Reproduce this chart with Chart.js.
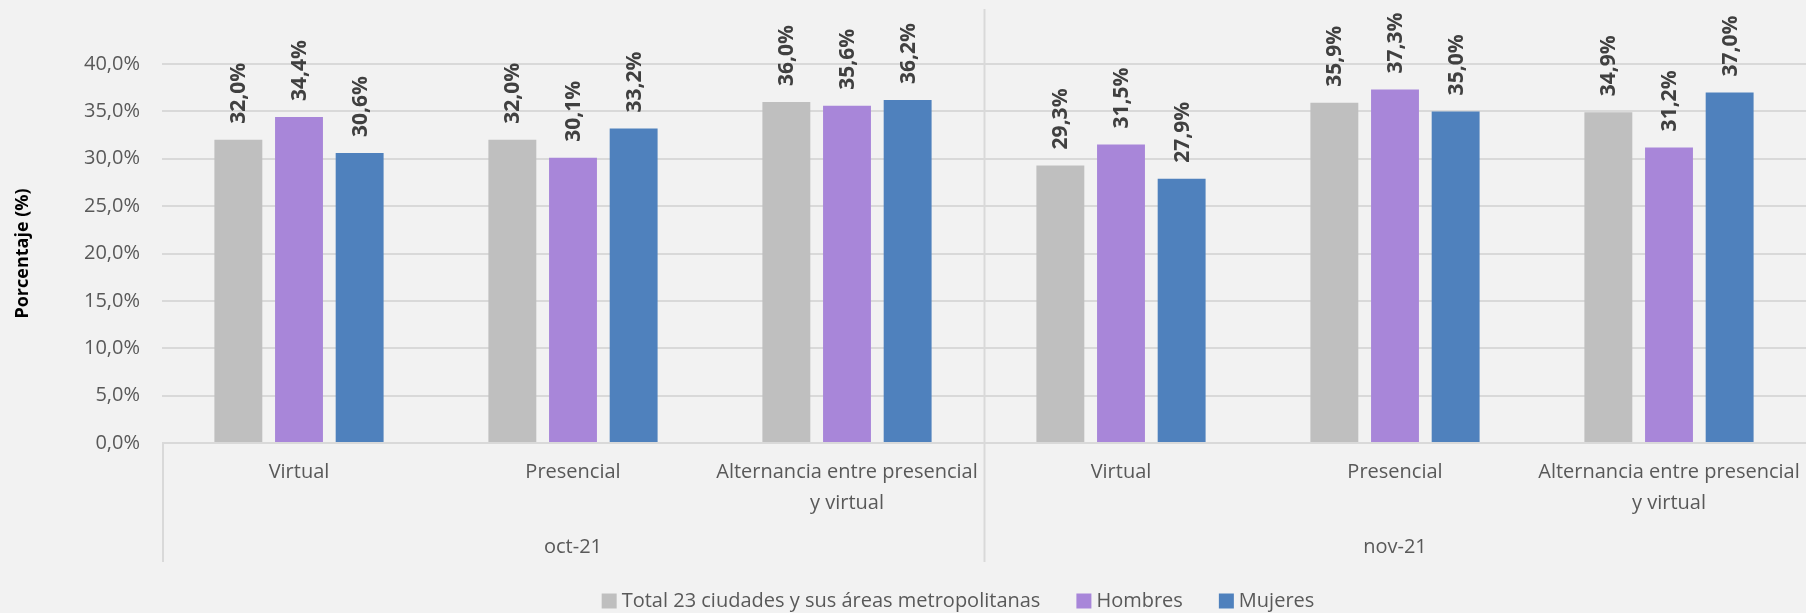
<!DOCTYPE html>
<html><head><meta charset="utf-8">
<script src="https://cdn.jsdelivr.net/npm/chart.js@4"></script>
<style>html,body{margin:0;padding:0;background:#F2F2F2;} #wrap{width:1806px;height:613px;position:relative;}</style>
</head><body><div id="wrap"><canvas id="c" width="1806" height="613"></canvas></div>
<script>
const categories = [['Virtual'],['Presencial'],['Alternancia entre presencial','y virtual'],['Virtual'],['Presencial'],['Alternancia entre presencial','y virtual']];
const periods = ['oct-21','nov-21'];
const seriesNames = ['Total 23 ciudades y sus áreas metropolitanas','Hombres','Mujeres'];
const total   = [32.0, 32.0, 36.0, 29.3, 35.9, 34.9];
const hombres = [34.4, 30.1, 35.6, 31.5, 37.3, 31.2];
const mujeres = [30.6, 33.2, 36.2, 27.9, 35.0, 37.0];
const yMin = 0, yMax = 40, yStep = 5;
const colors = ['#BFBFBF', '#A886D9', '#4F81BD'];

const FONT = '"Open Sans", "Noto Sans", sans-serif';
const fmt = v => v.toFixed(1).replace('.', ',') + '%';

const extras = {
  id: 'extras',
  afterDatasetsDraw(chart) {
    const ctx = chart.ctx;
    ctx.save();
    ctx.font = 'bold 21px ' + FONT;
    ctx.fillStyle = '#404040';
    ctx.textAlign = 'left';
    ctx.textBaseline = 'middle';
    chart.data.datasets.forEach((ds, i) => {
      const meta = chart.getDatasetMeta(i);
      meta.data.forEach((bar, j) => {
        ctx.save();
        ctx.translate(bar.x + 1, bar.y - 16);
        ctx.rotate(-Math.PI / 2);
        ctx.fillText(fmt(ds.data[j]), 0, 0);
        ctx.restore();
      });
    });
    ctx.restore();
  },
  afterDraw(chart) {
    const ctx = chart.ctx;
    const x = chart.scales.x;
    const area = chart.chartArea;
    ctx.save();
    ctx.strokeStyle = '#D9D9D9';
    ctx.lineWidth = 2;
    ctx.beginPath();
    ctx.moveTo(area.left + 1, area.bottom);
    ctx.lineTo(area.left + 1, 562);
    ctx.stroke();
    const sep = (x.getPixelForValue(2) + x.getPixelForValue(3)) / 2;
    ctx.beginPath();
    ctx.moveTo(Math.round(sep) + 0.5, 9);
    ctx.lineTo(Math.round(sep) + 0.5, 562);
    ctx.stroke();
    ctx.restore();

    // legend
    ctx.save();
    ctx.font = '20px ' + FONT;
    ctx.textBaseline = 'middle';
    ctx.textAlign = 'left';
    const box = 15, gap = 5, spacing = 36, cy = 601;
    const widths = chart.data.datasets.map(d => ctx.measureText(d.label).width);
    const totalW = widths.reduce((a, w) => a + box + gap + w, 0) + spacing * (widths.length - 1);
    let cx = 958 - totalW / 2;
    chart.data.datasets.forEach((d, i) => {
      ctx.fillStyle = d.backgroundColor;
      ctx.fillRect(cx, cy - box / 2, box, box);
      ctx.fillStyle = '#595959';
      ctx.fillText(d.label, cx + box + gap, cy);
      cx += box + gap + widths[i] + spacing;
    });
    ctx.restore();
  }
};

const noPad = s => { s.paddingLeft = 0; s.paddingRight = 0; };

new Chart(document.getElementById('c'), {
  type: 'bar',
  data: {
    labels: categories,
    datasets: [
      { label: seriesNames[0], data: total,   backgroundColor: colors[0] },
      { label: seriesNames[1], data: hombres, backgroundColor: colors[1] },
      { label: seriesNames[2], data: mujeres, backgroundColor: colors[2] }
    ]
  },
  options: {
    responsive: false,
    animation: false,
    devicePixelRatio: 1,
    categoryPercentage: 0.664,
    barPercentage: 0.79,
    layout: { padding: { top: 64, right: 0, left: 0, bottom: 51 } },
    plugins: { legend: { display: false }, tooltip: { enabled: false } },
    scales: {
      y: {
        min: yMin, max: yMax,
        ticks: { stepSize: yStep, callback: v => fmt(v), padding: 22, color: '#595959', font: { family: FONT, size: 20 } },
        grid: { color: '#D9D9D9', lineWidth: 2, drawTicks: false },
        border: { display: false },
        title: { display: true, text: 'Porcentaje (%)', color: '#000000', font: { family: FONT, size: 18, weight: 'bold' }, padding: { top: 12, bottom: 0 } },
        afterFit: s => { s.width = 162; }
      },
      x: {
        position: 'bottom',
        ticks: { color: '#595959', font: { family: FONT, size: 20, lineHeight: '31px' }, padding: 13.5, maxRotation: 0, autoSkip: false },
        grid: { display: false, drawTicks: false },
        border: { display: false },
        afterFit: noPad
      },
      x2: {
        type: 'category',
        position: 'bottom',
        labels: periods,
        offset: true,
        ticks: { color: '#595959', font: { family: FONT, size: 20, lineHeight: '23px' }, padding: 3.5, maxRotation: 0 },
        grid: { display: false, drawTicks: false },
        border: { display: false },
        afterFit: noPad
      }
    }
  },
  plugins: [extras]
});
</script>
</body></html>
